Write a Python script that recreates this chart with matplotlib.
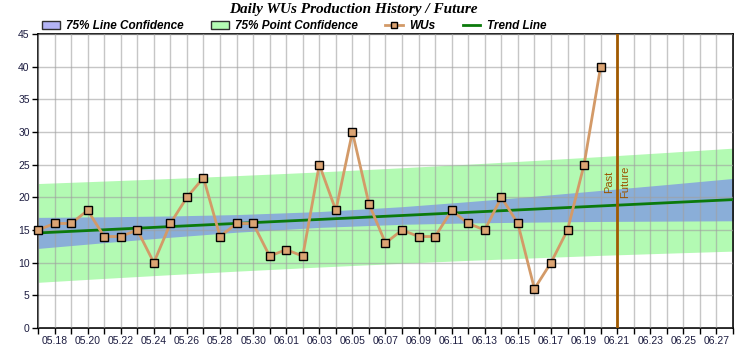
import matplotlib
matplotlib.use("Agg")
import matplotlib.pyplot as plt
from matplotlib.patches import Patch
from matplotlib.lines import Line2D

title = "Daily WUs Production History / Future"

# daily WUs, 05.17 .. 06.20 (day index 0..34)
wus = [15, 16, 16, 18, 14, 14, 15, 10, 16, 20,
       23, 14, 16, 16, 11, 12, 11, 25, 18, 30,
       19, 13, 15, 14, 14, 18, 16, 15, 20, 16,
       6, 10, 15, 25, 40]

x_tick_labels = ["05.18", "05.20", "05.22", "05.24", "05.26", "05.28", "05.30",
                 "06.01", "06.03", "06.05", "06.07", "06.09", "06.11", "06.13",
                 "06.15", "06.17", "06.19", "06.21", "06.23", "06.25", "06.27"]

trend_x = [0, 42]
trend_y = [14.55, 19.65]

band_x = [0, 4, 8, 12, 17, 22, 26, 30, 34, 38, 42]
line_conf_upper = [16.93, 17.02, 17.15, 17.36, 17.82, 18.57, 19.34, 20.17, 21.06, 21.96, 22.89]
line_conf_lower = [12.18, 13.06, 13.89, 14.66, 15.40, 15.87, 16.08, 16.21, 16.31, 16.36, 16.41]
point_conf_upper = [22.11, 22.49, 22.88, 23.32, 23.89, 24.53, 25.07, 25.64, 26.24, 26.87, 27.53]
point_conf_lower = [6.99, 7.59, 8.16, 8.70, 9.33, 9.91, 10.35, 10.74, 11.12, 11.45, 11.77]

divider_day = 35
last_day = 42

W, H = 744, 361
fig = plt.figure(figsize=(W / 100, H / 100), dpi=100)
ax = fig.add_axes([38 / W, (H - 328) / H, 695 / W, 294 / H])

ax.fill_between(band_x, point_conf_lower, point_conf_upper, color="#b3fab3", lw=0, zorder=1)
ax.fill_between(band_x, line_conf_lower, line_conf_upper, color="#8aaed8", lw=0, zorder=1.2)

ax.set_axisbelow(False)
ax.grid(True, color="#a0a0a0", alpha=0.6, lw=1)

ax.plot(trend_x, trend_y, color="#0b7a0b", lw=2, zorder=4)
ax.axvline(divider_day, color="#a05a00", lw=2, zorder=4.5)
ax.plot(range(len(wus)), wus, color="#d39a68", lw=2, marker="s", ms=5.8,
        mfc="#dba473", mec="black", mew=1, zorder=5, clip_on=False)

ax.text(34.5, 22.3, "Past", rotation=90, ha="center", va="center", zorder=6,
        color="#9a5500", fontsize=8, family="Liberation Sans")
ax.text(35.5, 22.3, "Future", rotation=90, ha="center", va="center", zorder=6,
        color="#9a5500", fontsize=8, family="Liberation Sans")

ax.set_xlim(0, last_day)
ax.set_ylim(0, 45)
ax.set_yticks(range(0, 46, 5))
ticks = list(range(0, last_day + 1))
labels = [""] * len(ticks)
for i, lab in enumerate(x_tick_labels):
    labels[1 + 2 * i] = lab
ax.set_xticks(ticks)
ax.set_xticklabels(labels)
ax.tick_params(axis="both", direction="out", length=4, width=1, labelsize=7.5,
               labelcolor="#1c1c40", color="black", pad=2)
for lab in ax.get_xticklabels() + ax.get_yticklabels():
    lab.set_family("Liberation Sans")
for s in ax.spines.values():
    s.set_color("black")
    s.set_linewidth(1.2)

fig.text(353 / W, 1 - 10 / H, title, ha="center", va="center",
         family="Liberation Serif", weight="bold", style="italic", fontsize=11)

handles = [
    Patch(facecolor="#b4b4f6", edgecolor="#303030", lw=1),
    Patch(facecolor="#b4fcb4", edgecolor="#303030", lw=1),
    Line2D([], [], color="#d39a68", lw=2, marker="s", ms=5, mfc="#dba473", mec="black", mew=1),
    Line2D([], [], color="#0b7a0b", lw=2),
]
leg_labels = ["75% Line Confidence", "75% Point Confidence", "WUs", "Trend Line"]
fig.legend(handles, leg_labels, loc="center left", bbox_to_anchor=(42 / W, 1 - 26 / H),
           ncol=4, frameon=False, borderaxespad=0, borderpad=0,
           handlelength=1.5, handletextpad=0.55, columnspacing=2.3,
           prop=dict(family="Liberation Sans", weight="bold", style="italic", size=8.5))

fig.savefig("out.png", dpi=100)
